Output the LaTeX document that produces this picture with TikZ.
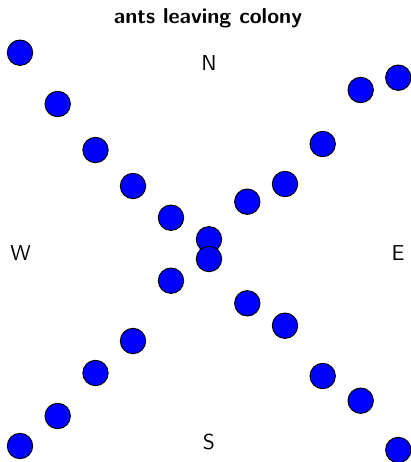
\documentclass[tikz,border=0pt]{standalone}
\begin{document}
\begin{tikzpicture}[x=0.463pt,y=-0.463pt,
  ant/.style={circle,draw=black,fill=blue,minimum size=11.76pt,inner sep=0pt,line width=0.45pt},
  lbl/.style={font=\sffamily,anchor=base,inner sep=0pt},
  ttl/.style={font=\sffamily\bfseries,anchor=base,inner sep=0pt}]
\useasboundingbox (0,0) rectangle (411,462);
\node[ttl] (title) at (208,23) {ants leaving colony};
\node[lbl] (N) at (209,70) {N};
\node[lbl] (S) at (209,449) {S};
\node[lbl] (W) at (20.5,260) {W};
\node[lbl] (E) at (398,260) {E};
\foreach \n/\x/\y in {
 c1/20/52.7, c2/57.7/104, c3/95.5/150, c4/133/186, c5/171/217.7,
 c6/209/239.3, c7/209/259, c8/171/280.7, c9/133/341, c10/95.5/373,
 c11/57.7/416, c12/20/446, c13/247.3/303.3, c14/285/325.7, c15/322.7/376,
 c16/360.7/400.7, c17/398.3/450, c18/247.3/201.7, c19/285/184,
 c20/322.7/144, c21/360.7/90, c22/398.3/77.7}
 \node[ant] (\n) at (\x,\y) {};
\end{tikzpicture}
\end{document}
